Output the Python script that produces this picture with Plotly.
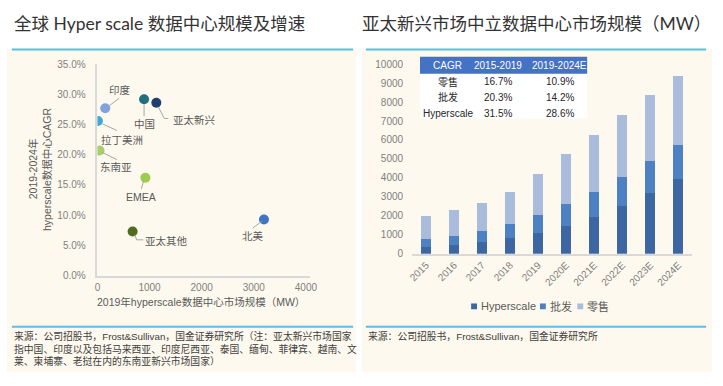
import plotly.graph_objects as go

W, H = 723, 386

# ---------------- data: left scatter ----------------
regions = ["印度", "中国", "亚太新兴", "拉丁美洲", "东南亚", "EMEA", "亚太其他", "北美"]
capacity_2019_mw = [150, 895, 1130, 10, 40, 920, 675, 3195]
cagr_2019_2024 = [27.7, 29.2, 28.6, 25.6, 20.7, 16.2, 7.3, 9.3]

# ---------------- data: right stacked bars ----------------
years = ["2015", "2016", "2017", "2018", "2019", "2020E", "2021E", "2022E", "2023E", "2024E"]
hyperscale = [380, 460, 600, 840, 1090, 1480, 1940, 2500, 3220, 3920]
wholesale = [420, 480, 610, 715, 950, 1145, 1300, 1535, 1670, 1825]
retail = [1190, 1345, 1465, 1685, 2170, 2635, 3015, 3290, 3490, 3630]
series_names = ["Hyperscale", "批发", "零售"]

# ---------------- data: CAGR table ----------------
table_header = ["CAGR", "2015-2019", "2019-2024E"]
table_rows = ["零售", "批发", "Hyperscale"]
table_1519 = ["16.7%", "20.3%", "31.5%"]
table_1924 = ["10.9%", "14.2%", "28.6%"]

# ---------------- texts ----------------
title_left = "全球 Hyper scale 数据中心规模及增速"
title_right = "亚太新兴市场中立数据中心市场规模（MW）"
ytitle_left = ["2019-2024年", "hyperscale数据中心CAGR"]
xtitle_left = "2019年hyperscale数据中心市场规模（MW）"
source_left = [
    "来源：公司招股书，Frost&Sullivan，国金证券研究所（注：亚太新兴市场国家",
    "指中国、印度以及包括马来西亚、印度尼西亚、泰国、缅甸、菲律宾、越南、文",
    "莱、柬埔寨、老挝在内的东南亚新兴市场国家）",
]
source_right = "来源：公司招股书，Frost&Sullivan，国金证券研究所"

# ---------------- styles ----------------
region_colors = ["#7FA3DA", "#1F6F80", "#203F70", "#43A7D2", "#A8CF6C", "#9DCB4C", "#4F6C1F", "#3F74C6"]
bar_colors = ["#3D67A3", "#4D81C4", "#AABCDC"]
# label offset (px, dy downward) and leader polyline (px offsets from point)
label_off = [(15, -18), (0, 25), (38, 17), (24, 18.6), (16.6, 16.7), (-4.5, 19.4), (34, 9.6), (-10.7, 17)]
leaders = [
    [(4, -2.5), (14, -10)],
    [(0, 5), (0, 17)],
    [(2, 4), (8, 15.7), (12, 15.7)],
    [(4.7, 3), (19, 9.6)],
    [(2.3, 1.7), (17.3, 9)],
    [(-1.7, 2.7), (-4, 11)],
    [(2.3, 3.3), (4, 8.3), (10.7, 8.3)],
    [(-2.3, 2), (-11.3, 8.7)],
]

LAT = "Liberation Sans, Arial, Noto Sans CJK SC, sans-serif"
TITLE = "Lato, Noto Sans CJK SC, sans-serif"
CREAM = "#FEF9EE"
BLUE_LINE = "#5BBDE6"
GRAY_TICK = "#7F7F7F"
AXLINE = "#D9D9D9"


def fx(p):
    return p / W


def fy(p):
    return 1 - p / H


def pann(x, y, text, size, color, family=LAT, xanchor="center", angle=0):
    return dict(x=fx(x), y=fy(y), xref="paper", yref="paper", xanchor=xanchor, yanchor="middle",
                text=text, showarrow=False, textangle=angle,
                font=dict(family=family, size=size, color=color))


fig = go.Figure()

# scatter
fig.add_trace(go.Scatter(
    x=capacity_2019_mw, y=cagr_2019_2024, mode="markers", text=regions,
    marker=dict(size=10, color=region_colors),
    xaxis="x", yaxis="y", showlegend=False, hoverinfo="text+x+y",
))

# bars
for name, vals, col in zip(series_names, [hyperscale, wholesale, retail], bar_colors):
    fig.add_trace(go.Bar(
        x=years, y=vals, name=name, marker=dict(color=col, line=dict(width=0)),
        width=0.36, xaxis="x2", yaxis="y2", showlegend=False,
    ))

shapes = []
annotations = []

# panel backgrounds
shapes.append(dict(type="rect", xref="paper", yref="paper", x0=fx(3), x1=fx(358), y0=fy(378), y1=fy(44),
                   fillcolor=CREAM, line=dict(width=0), layer="below"))
shapes.append(dict(type="rect", xref="paper", yref="paper", x0=fx(364), x1=fx(720), y0=fy(378), y1=fy(44),
                   fillcolor=CREAM, line=dict(width=0), layer="below"))
# blue rules
for (a, b) in [(8, 355), (368, 714)]:
    for yy in (45, 331):
        shapes.append(dict(type="line", xref="paper", yref="paper", x0=fx(a), x1=fx(b), y0=fy(yy), y1=fy(yy),
                           line=dict(color=BLUE_LINE, width=2)))

# leader lines & labels
for i, name in enumerate(regions):
    pts = leaders[i]
    path = "M " + " L ".join(f"{dx} {-dy}" for dx, dy in pts)
    shapes.append(dict(type="path", xref="x", yref="y", xsizemode="pixel", ysizemode="pixel",
                       xanchor=capacity_2019_mw[i], yanchor=cagr_2019_2024[i], path=path,
                       line=dict(color="#A6A6A6", width=1)))
    dx, dy = label_off[i]
    annotations.append(dict(x=capacity_2019_mw[i], y=cagr_2019_2024[i], xref="x", yref="y",
                            xanchor="center", yanchor="middle",
                            xshift=dx, yshift=-dy, text=name, showarrow=False,
                            font=dict(family=LAT, size=10.5, color="#595959")))

# titles
annotations.append(pann(8, 18, title_left, 17.5, "#333333", TITLE, "left"))
annotations.append(pann(362, 18, title_right, 17.5, "#333333", TITLE, "left"))

# axis titles (left chart)
annotations.append(pann(29, 168, ytitle_left[0], 10.5, "#595959", angle=-90))
annotations.append(pann(44, 168, ytitle_left[1], 10.5, "#595959", angle=-90))
annotations.append(pann(200, 306, xtitle_left, 10.5, "#595959"))

# sources
for k, line in enumerate(source_left):
    annotations.append(pann(8, 341 + 12.5 * k, line, 9.8, "#404040", xanchor="left"))
annotations.append(pann(368, 341, source_right, 9.8, "#404040", xanchor="left"))

# CAGR table
tx0, tx1 = 423, 593
shapes.append(dict(type="rect", xref="paper", yref="paper", x0=fx(tx0), x1=fx(tx1), y0=fy(116), y1=fy(70),
                   fillcolor="white", line=dict(width=0)))
shapes.append(dict(type="rect", xref="paper", yref="paper", x0=fx(tx0), x1=fx(tx1), y0=fy(70), y1=fy(52.5),
                   fillcolor="#4472C4", line=dict(width=0)))
col_x = [451, 502, 565]
for c, txt in enumerate(table_header):
    annotations.append(pann(col_x[c], 61.5, txt, 10, "white"))
row_y = [78, 94, 110.5]
for r in range(3):
    for c, txt in enumerate([table_rows[r], table_1519[r], table_1924[r]]):
        annotations.append(pann(col_x[c], row_y[r], txt, 10, "#262626"))

# manual legend for bars
leg_x = [475, 545, 583]
for name, col, lx in zip(series_names, bar_colors, leg_x):
    shapes.append(dict(type="rect", xref="paper", yref="paper", x0=fx(lx), x1=fx(lx + 6), y0=fy(313), y1=fy(307),
                       fillcolor=col, line=dict(width=0)))
    annotations.append(pann(lx + 8, 310, name, 11, "#595959", xanchor="left"))

tickfont = dict(family=LAT, size=10, color=GRAY_TICK)

fig.update_layout(
    width=W, height=H, margin=dict(l=0, r=0, t=0, b=0),
    paper_bgcolor="white", plot_bgcolor="rgba(0,0,0,0)",
    showlegend=False, barmode="stack",
    shapes=shapes, annotations=annotations,
    xaxis=dict(domain=[fx(95), fx(311)], range=[0, 4075], tick0=0, dtick=1000, showgrid=False, zeroline=False,
               showline=True, linecolor=AXLINE, linewidth=1.5, ticks="", tickfont=tickfont,
               ticklabelstandoff=2, anchor="y"),
    yaxis=dict(domain=[fy(278.3), fy(60)], range=[0, 35], tick0=0, dtick=5, tickformat=".1f", ticksuffix="%",
               showgrid=False, zeroline=False, showline=True, linecolor=AXLINE, linewidth=1.5, ticks="",
               tickfont=tickfont, ticklabelstandoff=8, anchor="x"),
    xaxis2=dict(domain=[fx(415), fx(700)], type="category", showgrid=False, zeroline=False, showline=True,
                linecolor=AXLINE, linewidth=1.5, ticks="", tickangle=-45, tickfont=tickfont,
                ticklabelstandoff=0, anchor="y2"),
    yaxis2=dict(domain=[fy(255.7), fy(60)], range=[0, 10000], tick0=0, dtick=1000, tickformat="d",
                showgrid=False, zeroline=False, showline=False, ticks="", tickfont=tickfont,
                ticklabelstandoff=8, anchor="x2"),
)

fig.write_html("out.html", config={"displayModeBar": False},
               post_script="document.body.style.margin='0';")
